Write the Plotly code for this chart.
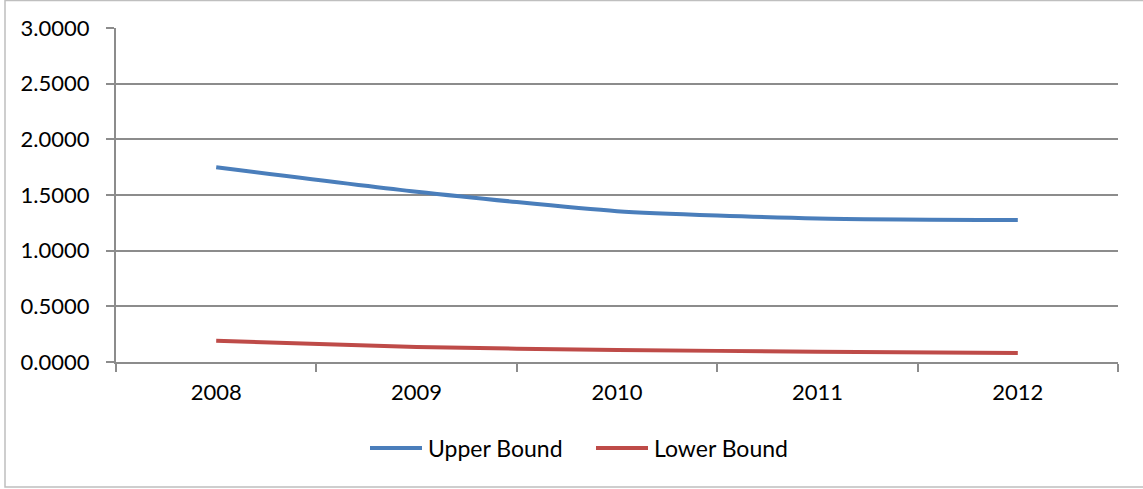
import plotly.graph_objects as go

# Yearly bounds
years = ["2008", "2009", "2010", "2011", "2012"]
upper_bound = [1.75, 1.53, 1.355, 1.29, 1.275]
lower_bound = [0.19, 0.135, 0.108, 0.093, 0.080]

y_ticks = [0.0, 0.5, 1.0, 1.5, 2.0, 2.5, 3.0]

W, H = 1143, 489
# plot area in pixels
L, R, T, B = 116, 1118, 28, 362

BLUE = "#4A7EBB"
RED = "#BE4B48"
GRID = "#8C8C8C"
FONT = "Lato"

fig = go.Figure()
fig.add_trace(go.Scatter(x=years, y=upper_bound, mode="lines", name="Upper Bound",
                         line=dict(color=BLUE, width=4, shape="spline", smoothing=0.6)))
fig.add_trace(go.Scatter(x=years, y=lower_bound, mode="lines", name="Lower Bound",
                         line=dict(color=RED, width=4, shape="spline", smoothing=0.6)))


def px_x(p):
    return (p - L) / (R - L)


def px_y(p):
    return (B - p) / (B - T)


shapes = [
    # chart frame
    dict(type="rect", xref="paper", yref="paper",
         x0=px_x(5), x1=px_x(1160), y0=px_y(487), y1=px_y(0.5),
         line=dict(color="#BFBFBF", width=1.5), layer="below"),
]
annotations = []

# legend
legend_items = [("Upper Bound", BLUE, 370, 422, 426), ("Lower Bound", RED, 596, 648, 652)]
for name, color, lx0, lx1, tx in legend_items:
    shapes.append(dict(type="line", xref="paper", yref="paper",
                       x0=px_x(lx0), x1=px_x(lx1), y0=px_y(448), y1=px_y(448),
                       line=dict(color=color, width=4)))
    annotations.append(dict(text=name, xref="paper", yref="paper",
                            x=px_x(tx), y=px_y(448), xanchor="left", yanchor="middle",
                            showarrow=False, font=dict(family=FONT, size=23, color="#000000")))

fig.update_layout(
    width=W, height=H,
    margin=dict(l=L, r=W - R, t=T, b=H - B),
    paper_bgcolor="white", plot_bgcolor="white",
    showlegend=False,
    font=dict(family=FONT, size=22, color="#000000"),
    shapes=shapes,
    annotations=annotations,
    xaxis=dict(
        type="category", range=[-0.5, 4.5],
        tickson="boundaries", ticks="outside", ticklen=8, tickcolor=GRID, tickwidth=1.5,
        showline=True, linecolor=GRID, linewidth=2,
        showgrid=False, zeroline=False,
        ticklabelstandoff=10,
    ),
    yaxis=dict(
        range=[0, 3.0], tickvals=y_ticks, ticktext=[f"{v:.4f}" for v in y_ticks],
        ticks="outside", ticklen=8, tickcolor=GRID, tickwidth=1.5,
        showline=True, linecolor=GRID, linewidth=2,
        showgrid=True, gridcolor=GRID, gridwidth=1.5,
        zeroline=False,
        ticklabelstandoff=12,
    ),
)

fig.write_html("out.html")
